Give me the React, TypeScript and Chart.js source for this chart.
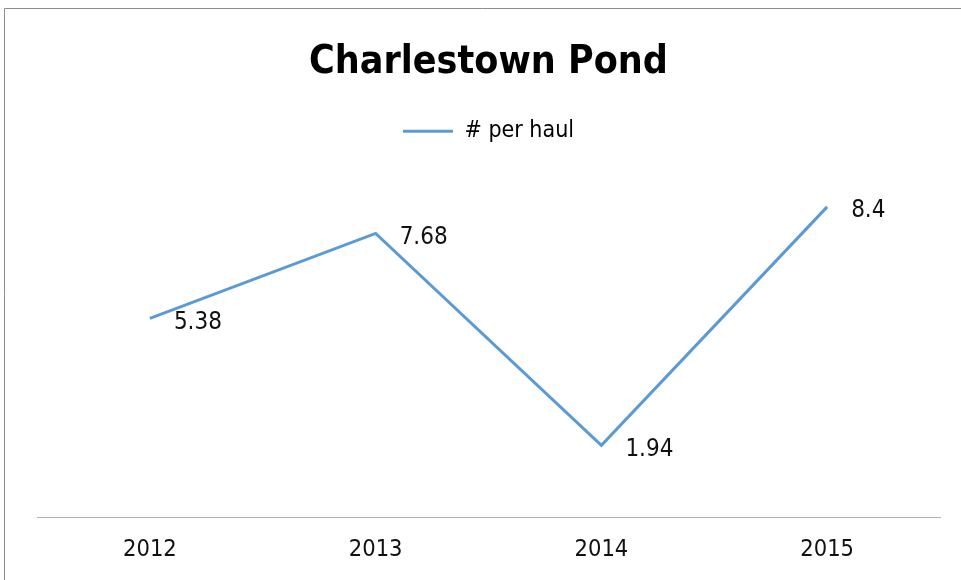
import React, { useEffect, useRef } from "react";
import { Chart, registerables } from "chart.js";

Chart.register(...registerables);

const categories = ["2012", "2013", "2014", "2015"];
const perHaul = [5.38, 7.68, 1.94, 8.4];
const valueLabels = ["5.38", "7.68", "1.94", "8.4"];
const seriesName = "# per haul";
const chartTitle = "Charlestown Pond";

const FONT = "'Liberation Sans Narrow', 'DejaVu Sans Condensed', 'Noto Sans', sans-serif";

const framePlugin = {
  id: "frame",
  beforeDraw(chart: any) {
    const ctx = chart.ctx;
    ctx.save();
    ctx.fillStyle = "#ffffff";
    ctx.fillRect(0, 0, chart.width, chart.height);
    ctx.strokeStyle = "#8c8c8c";
    ctx.lineWidth = 1;
    ctx.beginPath();
    ctx.moveTo(4.5, chart.height);
    ctx.lineTo(4.5, 8.5);
    ctx.lineTo(chart.width, 8.5);
    ctx.stroke();
    ctx.restore();
  },
};

const dataLabelPlugin = {
  id: "dataLabels",
  afterDatasetsDraw(chart: any) {
    const ctx = chart.ctx;
    const meta = chart.getDatasetMeta(0);
    ctx.save();
    ctx.font = `24px ${FONT}`;
    ctx.fillStyle = "#111111";
    ctx.textAlign = "left";
    ctx.textBaseline = "middle";
    meta.data.forEach((pt: any, i: number) => {
      ctx.fillText(valueLabels[i], pt.x + 24, pt.y + 4);
    });
    ctx.restore();
  },
};

export default function App() {
  const ref = useRef<HTMLCanvasElement | null>(null);
  useEffect(() => {
    if (!ref.current) return;
    const chart = new Chart(ref.current, {
      type: "line",
      data: {
        labels: categories,
        datasets: [
          {
            label: seriesName,
            data: perHaul,
            borderColor: "#5B9BD5",
            backgroundColor: "#5B9BD5",
            borderWidth: 3,
            pointRadius: 0,
            tension: 0,
            fill: false,
          },
        ],
      },
      options: {
        animation: false,
        responsive: false,
        layout: { padding: { top: 12, left: 37, right: 21, bottom: 16 } },
        plugins: {
          title: {
            display: true,
            text: chartTitle,
            color: "#000000",
            font: { family: FONT, size: 39, weight: "bold", lineHeight: 1.2 },
            padding: { top: 27, bottom: 30 },
          },
          legend: {
            display: true,
            position: "top",
            maxHeight: 32,
            labels: {
              color: "#111111",
              font: { family: FONT, size: 23 },
              boxWidth: 50,
              boxHeight: 3,
              padding: 4,
              generateLabels: (chart: any) =>
                chart.data.datasets.map((ds: any, i: number) => ({
                  text: ds.label,
                  fillStyle: ds.borderColor,
                  strokeStyle: ds.borderColor,
                  lineWidth: 0,
                  datasetIndex: i,
                  hidden: false,
                })),
            },
          },
          tooltip: { enabled: false },
        },
        scales: {
          x: {
            offset: true,
            grid: { display: false, drawTicks: false, tickLength: 0 },
            border: { display: true, color: "#b3b3b3", width: 1 },
            ticks: { color: "#111111", font: { family: FONT, size: 23.5 }, padding: 19 },
            afterFit: (scale: any) => {
              scale.height = 47;
            },
          },
          y: {
            display: false,
            min: 0,
            max: 10,
          },
        },
      },
      plugins: [framePlugin, dataLabelPlugin],
    });
    return () => chart.destroy();
  }, []);
  return (
    <div style={{ position: "fixed", left: 0, top: 0, width: 961, height: 580 }}>
      <canvas ref={ref} width={961} height={580} style={{ display: "block" }} />
    </div>
  );
}
